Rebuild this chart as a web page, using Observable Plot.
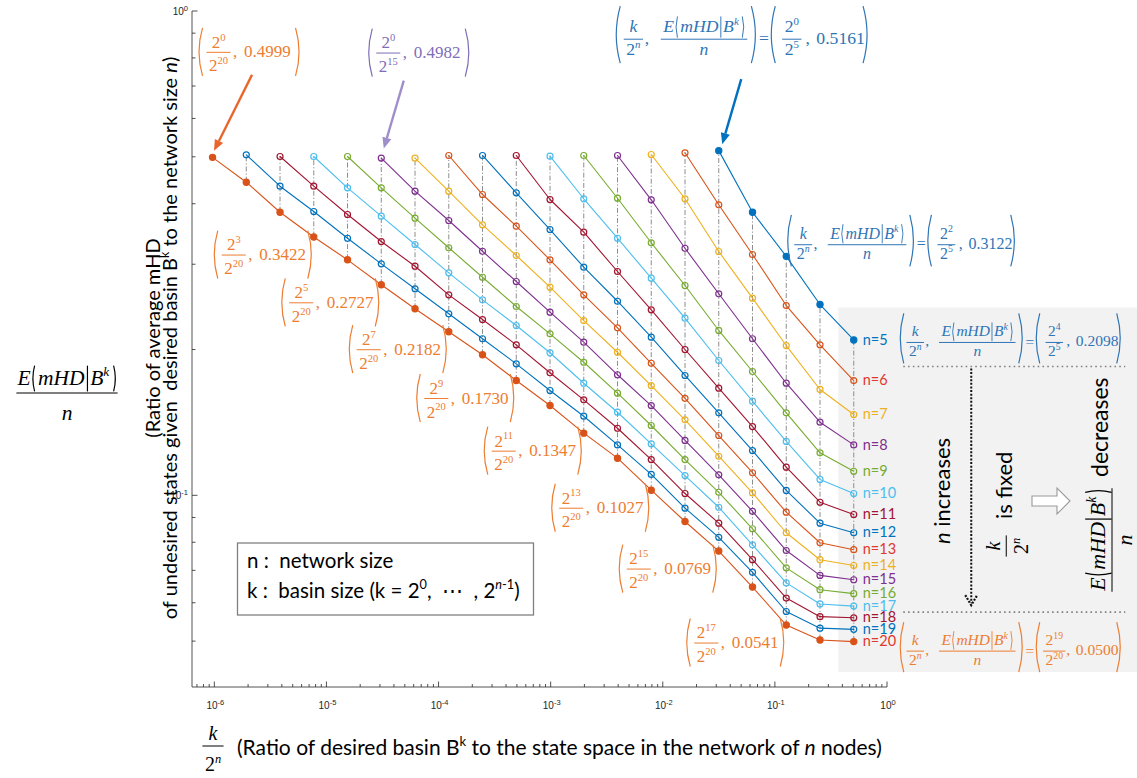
<!DOCTYPE html>
<html>
<head>
<meta charset="utf-8">
<script src="https://cdn.jsdelivr.net/npm/d3@7"></script>
<script src="https://cdn.jsdelivr.net/npm/@observablehq/plot@0.6"></script>
<style>
  html, body { margin: 0; padding: 0; background: #fff; }
  #chart svg { display: block; }
</style>
</head>
<body>
<div id="chart"></div>
<script>
// Network sizes n, one series each
const networkSizes = [5, 6, 7, 8, 9, 10, 11, 12, 13, 14, 15, 16, 17, 18, 19, 20];

// E(mHD | B^k) / n for basin sizes k = 2^0, 2^1, ..., 2^(n-1)
const ratioN5  = [0.5161, 0.3851, 0.3122, 0.2483, 0.2098];
const ratioN6  = [0.5108, 0.3989, 0.3150, 0.2471, 0.2050, 0.1730];
const ratioN7  = [0.5067, 0.4105, 0.3195, 0.2559, 0.2043, 0.1658, 0.1472];
const ratioN8  = [0.5043, 0.4085, 0.3245, 0.2613, 0.2110, 0.1708, 0.1419, 0.1274];
const ratioN9  = [0.5043, 0.4116, 0.3330, 0.2718, 0.2195, 0.1806, 0.1484, 0.1227, 0.1124];
const ratioN10 = [0.5026, 0.4105, 0.3403, 0.2814, 0.2327, 0.1903, 0.1568, 0.1295, 0.1081, 0.1011];
const ratioN11 = [0.5043, 0.4091, 0.3502, 0.2905, 0.2421, 0.2005, 0.1668, 0.1390, 0.1146, 0.0970, 0.0915];
const ratioN12 = [0.5043, 0.4223, 0.3547, 0.2965, 0.2522, 0.2126, 0.1772, 0.1484, 0.1240, 0.1026, 0.0878, 0.0839];
const ratioN13 = [0.5043, 0.4189, 0.3603, 0.3071, 0.2600, 0.2223, 0.1878, 0.1590, 0.1332, 0.1116, 0.0925, 0.0800, 0.0774];
const ratioN14 = [0.4979, 0.4256, 0.3627, 0.3135, 0.2696, 0.2301, 0.1979, 0.1689, 0.1435, 0.1207, 0.1014, 0.0839, 0.0738, 0.0718];
const ratioN15 = [0.4982, 0.4256, 0.3702, 0.3199, 0.2770, 0.2394, 0.2076, 0.1778, 0.1536, 0.1301, 0.1105, 0.0929, 0.0771, 0.0685, 0.0671];
const ratioN16 = [0.5019, 0.4325, 0.3743, 0.3252, 0.2827, 0.2460, 0.2160, 0.1887, 0.1629, 0.1397, 0.1188, 0.1017, 0.0855, 0.0710, 0.0640, 0.0628];
const ratioN17 = [0.5019, 0.4325, 0.3779, 0.3303, 0.2887, 0.2539, 0.2247, 0.1974, 0.1708, 0.1488, 0.1280, 0.1101, 0.0947, 0.0792, 0.0661, 0.0598, 0.0592];
const ratioN18 = [0.5019, 0.4358, 0.3809, 0.3350, 0.2979, 0.2600, 0.2312, 0.2050, 0.1795, 0.1578, 0.1379, 0.1188, 0.1011, 0.0878, 0.0738, 0.0615, 0.0563, 0.0560];
const ratioN19 = [0.5060, 0.4358, 0.3864, 0.3403, 0.3013, 0.2676, 0.2376, 0.2110, 0.1873, 0.1650, 0.1460, 0.1274, 0.1107, 0.0943, 0.0821, 0.0695, 0.0577, 0.0533, 0.0530];
const ratioN20 = [0.4999, 0.4442, 0.3851, 0.3422, 0.3071, 0.2727, 0.2433, 0.2182, 0.1955, 0.1730, 0.1536, 0.1347, 0.1196, 0.1027, 0.0885, 0.0769, 0.0648, 0.0541, 0.0504, 0.0500];

// Exponents j of the n = 20 points that carry a value label (k = 2^j)
const labeledN20 = [3, 5, 7, 9, 11, 13, 15, 17];

// Decade exponents for the axis tick labels
const xTickExponents = [-6, -5, -4, -3, -2, -1, 0];
const yTickExponents = [0, -1];

const xDomain = [6.32e-7, 1];
const yDomain = [0.0402, 1];

const SERIF = "'Liberation Serif', 'Times New Roman', serif";
const SANS = "Lato, 'Liberation Sans', sans-serif";
const AXISF = "'Liberation Sans', Arial, sans-serif";

const palette = ["#0072BD", "#D95319", "#EDB120", "#7E2F8E", "#77AC30", "#4DBEEE", "#A2142F"];
const labelPalette = ["#0072BD", "#E0382A", "#EDB120", "#7E2F8E", "#77AC30", "#4DBEEE", "#A2142F"];
const colorOf = n => palette[(n - 5) % 7];
const labelColorOf = n => labelPalette[(n - 5) % 7];
const ORANGE = "#ED7D31", BLUE = "#2E75B6", LAVENDER = "#7F6DB8";

const ratios = {5: ratioN5, 6: ratioN6, 7: ratioN7, 8: ratioN8, 9: ratioN9, 10: ratioN10, 11: ratioN11, 12: ratioN12,
  13: ratioN13, 14: ratioN14, 15: ratioN15, 16: ratioN16, 17: ratioN17, 18: ratioN18, 19: ratioN19, 20: ratioN20};

const rows = networkSizes.flatMap(n => ratios[n].map((v, j) => ({n, j, x: 2 ** j / 2 ** n, y: v})));
const ends = rows.filter(d => d.j === d.n - 1);
const isFilled = n => n === 5 || n === 20;

const plot = Plot.plot({
  width: 1137,
  height: 778,
  marginLeft: 192,
  marginRight: 250,
  marginTop: 11,
  marginBottom: 91,
  x: {type: "log", domain: xDomain, axis: null},
  y: {type: "log", domain: yDomain, axis: null},
  color: {type: "identity"},
  style: {background: "#fff", overflow: "visible"},
  marks: [
    // dash-dot guides joining all points that share the same k / 2^n
    Plot.ruleX(rows, Plot.groupX({y1: "min", y2: "max"}, {
      x: "x", y1: "y", y2: "y", stroke: "#808080", strokeWidth: 0.9, strokeDasharray: "5 2 1.2 2"
    })),
    Plot.line(rows, {x: "x", y: "y", z: "n", stroke: d => colorOf(d.n), strokeWidth: 1.1}),
    Plot.dot(rows, {
      x: "x", y: "y", r: d => isFilled(d.n) ? 4.3 : 4,
      stroke: d => colorOf(d.n), fill: d => isFilled(d.n) ? colorOf(d.n) : "none", strokeWidth: 1.2
    }),
    Plot.text(ends, {
      x: "x", y: "y", text: d => `n=${d.n}`, dx: 9, textAnchor: "start",
      fill: d => labelColorOf(d.n), fontSize: 14.5, fontFamily: SANS
    })
  ]
});
document.getElementById("chart").append(plot);

const svg = d3.select(plot);
const sx = plot.scale("x"), sy = plot.scale("y");
const X = v => sx.apply(v), Y = v => sy.apply(v);
const at = (n, j) => [X(2 ** j / 2 ** n), Y(ratios[n][j])];

// ---------- helpers for math-like text ----------
function mtext(g, x, y, segs, o = {}) {
  const size = o.size || 16;
  const t = g.append("text")
    .attr("x", x).attr("y", y)
    .attr("font-family", o.family || SERIF)
    .attr("font-size", size)
    .attr("fill", o.fill || "#000")
    .attr("text-anchor", o.anchor || "start")
    .style("white-space", "pre");
  let shift = 0;
  for (const s of segs) {
    const seg = typeof s === "string" ? {t: s} : s;
    const target = seg.sup ? -0.42 * size : 0;
    const sp = t.append("tspan").attr("dy", target - shift).text(seg.t);
    shift = target;
    if (seg.sup) sp.attr("font-size", (o.supScale || 0.62) * size);
    if (seg.it) sp.attr("font-style", "italic");
  }
  return t;
}
const textLen = t => t.node().getComputedTextLength();

function frac(g, cx, barY, num, den, o, up, down, pad = 2.5) {
  const a = mtext(g, cx, barY - up, num, {...o, anchor: "middle"});
  const b = mtext(g, cx, barY + down, den, {...o, anchor: "middle"});
  const w = Math.max(textLen(a), textLen(b)) + 2 * pad;
  g.append("line")
    .attr("x1", cx - w / 2).attr("x2", cx + w / 2).attr("y1", barY).attr("y2", barY)
    .attr("stroke", o.fill).attr("stroke-width", o.barWidth || 1);
}

// dir = -1 draws "(", dir = +1 draws ")"; x is the outermost point of the curve
function paren(g, x, top, bottom, dir, color, b = 4, w = 1.2) {
  const mid = (top + bottom) / 2;
  g.append("path")
    .attr("d", `M${x - dir * b},${top} Q${x + dir * b},${mid} ${x - dir * b},${bottom}`)
    .attr("fill", "none").attr("stroke", color).attr("stroke-width", w);
}

// E(mHD | B^k) with tall delimiters, drawn from x = 0 on baseline 0; returns its width
function bigE(g, size, color) {
  const o = {size, fill: color};
  const top = -0.9 * size, bot = 0.3 * size, sw = Math.max(0.9, size * 0.055);
  let x = 0;
  x += textLen(mtext(g, x, 0, [{t: "E", it: true}], o)) + 0.05 * size;
  paren(g, x + 0.06 * size, top, bot, -1, color, 0.08 * size, sw);
  x += 0.3 * size;
  x += textLen(mtext(g, x, 0, [{t: "mHD", it: true}], o)) + 0.13 * size;
  g.append("line").attr("x1", x).attr("x2", x).attr("y1", top).attr("y2", bot)
    .attr("stroke", color).attr("stroke-width", sw);
  x += 0.13 * size;
  x += textLen(mtext(g, x, 0, [{t: "B", it: true}, {t: "k", sup: true, it: true}], o)) + 0.08 * size;
  paren(g, x + 0.2 * size, top, bot, 1, color, 0.08 * size, sw);
  x += 0.26 * size;
  return x;
}

function fracE(g, cx, barY, o, up, down, pad = 2.5) {
  const grp = g.append("g");
  const w = bigE(grp, o.size, o.fill);
  grp.attr("transform", `translate(${cx - w / 2},${barY - up})`);
  mtext(g, cx, barY + down, [{t: "n", it: true}], {...o, anchor: "middle"});
  g.append("line")
    .attr("x1", cx - w / 2 - pad).attr("x2", cx + w / 2 + pad).attr("y1", barY).attr("y2", barY)
    .attr("stroke", o.fill).attr("stroke-width", o.barWidth || 1);
}

function arrow(g, x1, y1, x2, y2, color, w = 2.4, head = 11) {
  const ang = Math.atan2(y2 - y1, x2 - x1);
  const bx = x2 - head * Math.cos(ang), by = y2 - head * Math.sin(ang);
  const hw = head * 0.42;
  g.append("line").attr("x1", x1).attr("y1", y1).attr("x2", bx).attr("y2", by)
    .attr("stroke", color).attr("stroke-width", w);
  g.append("path")
    .attr("d", `M${x2},${y2}L${bx + hw * Math.sin(ang)},${by - hw * Math.cos(ang)}L${bx - hw * Math.sin(ang)},${by + hw * Math.cos(ang)}Z`)
    .attr("fill", color);
}

const pow2 = e => [{t: "2"}, {t: String(e), sup: true}];

// "(2^a / 2^b, value)" label; L, T give the left paren and top edge
function pairNote(g, L, T, a, b, value, color, W = 97, size = 17) {
  const H = 48, o = {size, fill: color};
  paren(g, L, T, T + H, -1, color, 3.5);
  frac(g, L + 19.5, T + 24.5, pow2(a), pow2(b), o, 4.6, 19);
  mtext(g, L + 34, T + 29.5, [","], o);
  mtext(g, L + 45, T + 29.5, [value], o);
  paren(g, L + W, T, T + H, 1, color, 3.5);
}

// "(k/2^n, E(mHD|B^k)/n) = (2^a/2^b, value)" label
function eqNote(g, L, T, a, b, value, color, s = 1) {
  const f = 15.5 * s, H = 50 * s, o = {size: f, fill: color};
  const mid = T + 29 * s;
  paren(g, L, T, T + H, -1, color, 3.5 * s);
  frac(g, L + 15 * s, mid, [{t: "k", it: true}], [{t: "2"}, {t: "n", sup: true, it: true}], o, 6 * s, 14 * s);
  mtext(g, L + 25 * s, mid + 4 * s, [","], o);
  fracE(g, L + 77 * s, mid, o, 6 * s, 14 * s);
  paren(g, L + 122 * s, T, T + H, 1, color, 3.5 * s);
  mtext(g, L + 129.5 * s, mid + 4.5 * s, ["="], {...o, anchor: "middle"});
  paren(g, L + 136 * s, T, T + H, -1, color, 3.5 * s);
  frac(g, L + 154 * s, mid, pow2(a), pow2(b), o, 6 * s, 14 * s);
  mtext(g, L + 166 * s, mid + 4 * s, [","], o);
  mtext(g, L + 175.5 * s, mid + 4 * s, [value], o);
  paren(g, L + 220 * s, T, T + H, 1, color, 3.5 * s);
}

// ---------- shaded panel on the right (behind every mark) ----------
const [p5x, p5y] = at(5, 4);
const [p20x, p20y] = at(20, 19);
svg.insert("rect", "g")
  .attr("x", p5x - 15).attr("y", p5y - 32)
  .attr("width", 1137 - (p5x - 15)).attr("height", (p20y + 31) - (p5y - 32))
  .attr("fill", "#f2f2f2");

const deco = svg.append("g");

// ---------- axes (ticks point inward) ----------
const xl = X(xDomain[0]), xr = X(xDomain[1]), yb = Y(yDomain[0]), yt = Y(yDomain[1]);
const ax = deco.append("g").attr("stroke", "#262626").attr("stroke-width", 0.8);
ax.append("line").attr("x1", xl).attr("x2", xr).attr("y1", yb).attr("y2", yb);
ax.append("line").attr("x1", xl).attr("x2", xl).attr("y1", yt).attr("y2", yb);
for (let e = -7; e <= 0; e++) for (let m = 1; m <= 9; m++) {
  const v = m * 10 ** e;
  if (v < xDomain[0] || v > xDomain[1] * 1.0001) continue;
  const px = X(v);
  ax.append("line").attr("x1", px).attr("x2", px).attr("y1", yb).attr("y2", yb - (m === 1 ? 5.5 : 3));
}
for (let e = -2; e <= 0; e++) for (let m = 1; m <= 9; m++) {
  const v = m * 10 ** e;
  if (v < yDomain[0] || v > yDomain[1] * 1.0001) continue;
  const py = Y(v);
  ax.append("line").attr("x1", xl).attr("x2", xl + (m === 1 ? 5.5 : 3.5)).attr("y1", py).attr("y2", py);
}
for (const e of xTickExponents) {
  mtext(deco, X(10 ** e) + 1, yb + 22, [{t: "10"}, {t: String(e), sup: true}],
    {size: 10, family: AXISF, fill: "#262626", anchor: "middle", supScale: 0.75});
}
for (const e of yTickExponents) {
  mtext(deco, xl - 4, Y(10 ** e) + 4, [{t: "10"}, {t: String(e), sup: true}],
    {size: 10, family: AXISF, fill: "#262626", anchor: "end", supScale: 0.75});
}

// ---------- axis titles ----------
fracE(deco, 67, 393, {size: 21.5, fill: "#000"}, 8, 27, 1);
const yl1 = deco.append("g").attr("transform", "translate(160,338) rotate(-90)");
mtext(yl1, 0, 0, ["(Ratio of average mHD"], {size: 20, family: SANS, anchor: "middle"});
const yl2 = deco.append("g").attr("transform", "translate(177,338) rotate(-90)");
mtext(yl2, 0, 0, ["of undesired states given  desired basin B", {t: "k", sup: true}, " to the network size ", {t: "n", it: true}, ")"],
  {size: 20, family: SANS, anchor: "middle"});

frac(deco, 213, 746, [{t: "k", it: true}], [{t: "2"}, {t: "n", sup: true, it: true}], {size: 20, fill: "#000"}, 6, 25);
mtext(deco, 237, 755, ["(Ratio of desired basin B", {t: "k", sup: true}, " to the state space in the network of ", {t: "n", it: true}, " nodes)"],
  {size: 21, family: SANS});

// ---------- legend box ----------
deco.append("rect").attr("x", xl + 45.5).attr("y", 543).attr("width", 296).attr("height", 72)
  .attr("fill", "#fff").attr("stroke", "#808080").attr("stroke-width", 1.3);
mtext(deco, xl + 55, 568, ["n :  network size"], {size: 20.5, family: SANS});
mtext(deco, xl + 55, 598, ["k :  basin size (k = 2", {t: "0", sup: true}, ",  \u22EF  , 2", {t: "n", sup: true, it: true}, {t: "-1", sup: true}, ")"],
  {size: 20.5, family: SANS});

// ---------- value labels along n = 20 ----------
for (const j of labeledN20) {
  const [px, py] = at(20, j);
  pairNote(deco, px - 2 - 97, py - 6, j, 20, ratioN20[j].toFixed(4), ORANGE);
}

// ---------- callouts at the first points of n = 20, n = 15 and n = 5 ----------
{
  const [px, py] = at(20, 0);
  pairNote(deco, px - 13, py - 129, 0, 20, ratioN20[0].toFixed(4), ORANGE, 100);
  arrow(deco, px + 40, py - 82, px + 2, py - 6, "#E9652C");
}
{
  const [px, py] = at(15, 0);
  pairNote(deco, px - 12, py - 129, 0, 15, ratioN15[0].toFixed(4), LAVENDER, 100);
  arrow(deco, px + 23, py - 77, px + 3, py - 9, "#9E8FCB");
}
{
  const [px, py] = at(5, 0);
  eqNote(deco, px - 102, py - 144, 0, 5, ratioN5[0].toFixed(4), BLUE, 1.14);
  arrow(deco, px + 23, py - 71, px + 4, py - 6, "#0070C0");
}
{
  const [px, py] = at(5, 2);
  eqNote(deco, px + 2, py - 41, 2, 5, ratioN5[2].toFixed(4), BLUE, 1.03);
}
{
  const [px, py] = at(5, 4);
  eqNote(deco, px + 47, py - 26, 4, 5, ratioN5[4].toFixed(4), BLUE, 1);
  deco.append("line").attr("x1", px + 50).attr("x2", px + 272).attr("y1", py + 27).attr("y2", py + 27)
    .attr("stroke", "#808080").attr("stroke-width", 1.6).attr("stroke-dasharray", "1.6 3.2");
}
{
  const [px, py] = at(20, 19);
  eqNote(deco, px + 47, py - 19, 19, 20, ratioN20[19].toFixed(4), ORANGE, 1);
  deco.append("line").attr("x1", px + 50).attr("x2", px + 272).attr("y1", py - 29).attr("y2", py - 29)
    .attr("stroke", "#808080").attr("stroke-width", 1.6).attr("stroke-dasharray", "1.6 3.2");
}

// ---------- explanation inside the shaded panel ----------
{
  const ax0 = p5x + 118;
  deco.append("line").attr("x1", ax0).attr("x2", ax0).attr("y1", p5y + 29).attr("y2", p20y - 38)
    .attr("stroke", "#111").attr("stroke-width", 2).attr("stroke-dasharray", "2 1.6");
  deco.append("path")
    .attr("d", `M${ax0 - 6},${p20y - 46}L${ax0},${p20y - 36}L${ax0 + 6},${p20y - 46}`)
    .attr("fill", "none").attr("stroke", "#111").attr("stroke-width", 2.2).attr("stroke-dasharray", "2 1.4");

  const g1 = deco.append("g").attr("transform", `translate(${ax0 - 21},491) rotate(-90)`);
  mtext(g1, 0, 0, [{t: "n", it: true}, " increases"], {size: 22, family: SANS, anchor: "middle"});

  const g2 = deco.append("g").attr("transform", `translate(${ax0 + 35},546) rotate(-90)`);
  frac(g2, 0, 0, [{t: "k", it: true}], [{t: "2"}, {t: "n", sup: true, it: true}], {size: 20, fill: "#000"}, 6, 22);
  mtext(g2, 27, 6, ["is fixed"], {size: 22, family: SANS});

  deco.append("path")
    .attr("d", "M1032,496L1057,496L1057,488L1070,501L1057,514L1057,506L1032,506Z")
    .attr("fill", "#fff").attr("stroke", "#9a9a9a").attr("stroke-width", 1.1);

  const g3 = deco.append("g").attr("transform", "translate(1112,540) rotate(-90)");
  fracE(g3, 0, 0, {size: 22, fill: "#000"}, 7, 20, 1);
  mtext(g3, 63, -4, ["decreases"], {size: 23, family: SANS});
}
</script>
</body>
</html>
